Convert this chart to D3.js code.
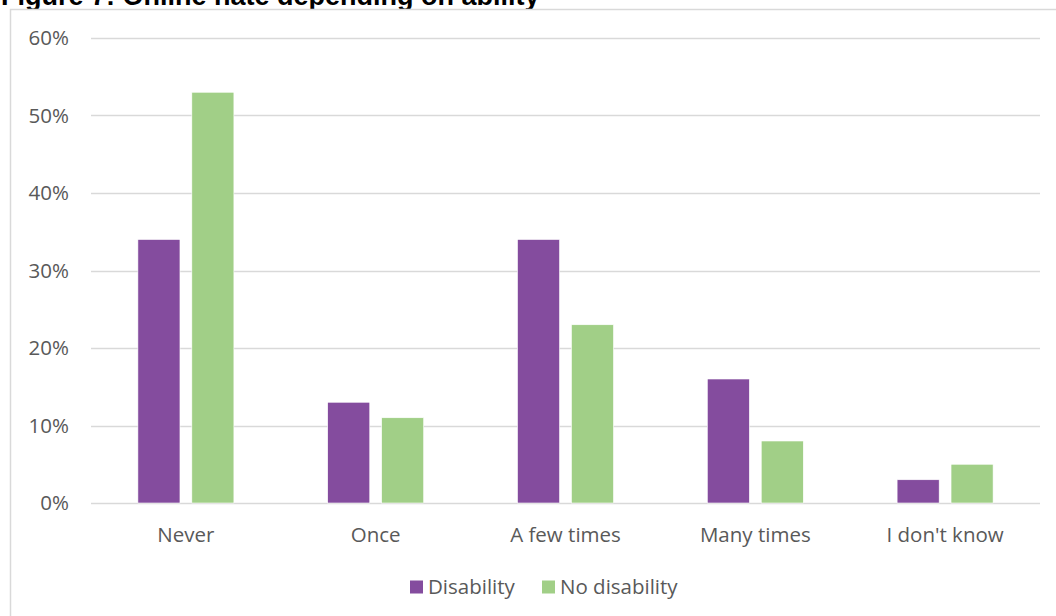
<!DOCTYPE html>
<html><head><meta charset="utf-8">
<script src="https://cdn.jsdelivr.net/npm/d3@7"></script>
<style>body{margin:0;background:#fff;}svg{display:block;}</style>
</head><body>
<script>
const categories = ["Never", "Once", "A few times", "Many times", "I don't know"];
const seriesNames = ["Disability", "No disability"];
const disability = [34, 13, 34, 16, 3];
const noDisability = [53, 11, 23, 8, 5];
const yTicks = [0, 10, 20, 30, 40, 50, 60];
const colors = ["#844C9E", "#A1CF87"];
const title = "Figure 7: Online hate depending on ability";

const W = 1056, H = 616;
const svg = d3.select("body").append("svg").attr("width", W).attr("height", H);

svg.append("text").attr("x", 1).attr("y", 5)
  .attr("font-family", "Liberation Sans, Arial, sans-serif").attr("font-weight", "bold")
  .attr("font-size", 27).attr("fill", "#000").text(title);

svg.append("rect").attr("x", 10.5).attr("y", 9.5).attr("width", 1100).attr("height", 700)
  .attr("fill", "#fff").attr("stroke", "#d9d9d9").attr("stroke-width", 1.5);

const y = d3.scaleLinear().domain([0, 60]).range([503, 38]);
const x0 = d3.scaleBand().domain(categories).range([91, 1040]).padding(0);
const bw = x0.bandwidth();
const x1 = d3.scaleBand().domain(seriesNames).range([(bw - 96) / 2, (bw + 96) / 2]).paddingInner(0.22);

const font = "'Open Sans', sans-serif";
const fs = 20.5;
const g = svg.append("g");
g.selectAll("line.grid").data(yTicks).enter().append("line")
  .attr("x1", 91).attr("x2", 1040)
  .attr("y1", d => Math.round(y(d)) + 0.5).attr("y2", d => Math.round(y(d)) + 0.5)
  .attr("stroke", "#d9d9d9").attr("stroke-width", 1.5);

g.selectAll("text.ytick").data(yTicks).enter().append("text")
  .attr("x", 69).attr("y", d => y(d)).attr("dy", "0.35em")
  .attr("text-anchor", "end").attr("font-family", font).attr("font-size", fs)
  .attr("fill", "#595959").text(d => d + "%");

const data = categories.map((c, i) => ({cat: c, vals: [disability[i], noDisability[i]]}));
const groups = g.selectAll("g.cat").data(data).enter().append("g")
  .attr("transform", d => `translate(${x0(d.cat)},0)`);
groups.selectAll("rect").data(d => d.vals.map((v, j) => ({s: seriesNames[j], v, j}))).enter().append("rect")
  .attr("x", d => x1(d.s)).attr("width", x1.bandwidth())
  .attr("y", d => y(d.v)).attr("height", d => y(0) - y(d.v))
  .attr("fill", d => colors[d.j]).attr("stroke", "#fff").attr("stroke-width", 0.6);

g.selectAll("text.xcat").data(categories).enter().append("text")
  .attr("x", d => x0(d) + bw / 2).attr("y", 535).attr("dy", "0.35em")
  .attr("text-anchor", "middle").attr("font-family", font).attr("font-size", fs)
  .attr("fill", "#595959").text(d => d);

// legend
const legendX = [410, 542];
const leg = svg.selectAll("g.leg").data(seriesNames).enter().append("g")
  .attr("transform", (d, i) => `translate(${legendX[i]},587)`);
leg.append("rect").attr("x", 0).attr("y", -6.5).attr("width", 13).attr("height", 13)
  .attr("fill", (d, i) => colors[i]);
leg.append("text").attr("x", 18).attr("y", 0).attr("dy", "0.35em")
  .attr("font-family", font).attr("font-size", fs).attr("fill", "#595959").text(d => d);
</script>
</body></html>
